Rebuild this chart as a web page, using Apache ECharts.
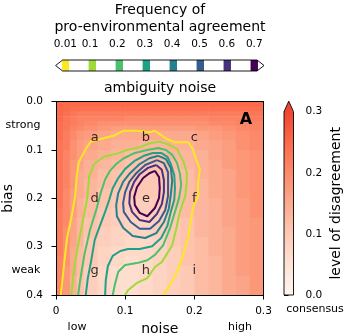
<!DOCTYPE html>
<html><head><meta charset="utf-8">
<script src="https://cdn.jsdelivr.net/npm/echarts@6/dist/echarts.min.js"></script>
<style>html,body{margin:0;padding:0;background:#fff}#c{width:350px;height:335px}</style>
</head><body><div id="c"></div>
<script>
// ---------- data ----------
const xTicks = [0, 0.1, 0.2, 0.3];
const xTickLabels = ['0', '0.1', '0.2', '0.3'];
const yTicks = [0, 0.1, 0.2, 0.3, 0.4];
const yTickLabels = ['0.0', '0.1', '0.2', '0.3', '0.4'];

const levels = [0.01, 0.1, 0.2, 0.3, 0.4, 0.5, 0.6, 0.7];
const levelLabels = ['0.01', '0.1', '0.2', '0.3', '0.4', '0.5', '0.6', '0.7'];
const levelColors = ['#fde725', '#a0da39', '#4ac16d', '#1fa187', '#277f8e', '#365c8d', '#46327e', '#440154'];

const cbarTicks = [0, 0.1, 0.2, 0.3];
const cbarTickLabels = ['0.0', '0.1', '0.2', '0.3'];
const disagreeColors = ['#fff5f0', '#fee3d6', '#fdc9b4', '#fcaa8e', '#fc8a6a', '#fb6a4a', '#f14432'];

// heatmap cell edges (noise, bias)
const colEdges = [0, 0.01, 0.02, 0.03, 0.04, 0.06, 0.08, 0.10, 0.12, 0.14, 0.16, 0.18, 0.20, 0.22, 0.24, 0.26, 0.28, 0.30];
const rowEdges = [0, 0.01, 0.02, 0.03, 0.04, 0.05, 0.06, 0.08, 0.10, 0.12, 0.14, 0.16, 0.18, 0.20, 0.22, 0.24, 0.26, 0.28, 0.30, 0.32, 0.34, 0.36, 0.38, 0.40];
// level of disagreement, one row per bias band
const disagreement = [
 [0.25,0.25,0.25,0.25,0.25,0.25,0.25,0.25,0.25,0.25,0.25,0.25,0.25,0.25,0.25,0.25,0.25],
 [0.25,0.25,0.24,0.24,0.24,0.24,0.24,0.24,0.24,0.24,0.24,0.24,0.24,0.24,0.24,0.24,0.24],
 [0.25,0.24,0.23,0.22,0.22,0.22,0.22,0.22,0.22,0.22,0.22,0.22,0.22,0.22,0.22,0.22,0.23],
 [0.25,0.23,0.22,0.21,0.21,0.21,0.21,0.20,0.20,0.20,0.20,0.20,0.20,0.21,0.21,0.21,0.22],
 [0.24,0.23,0.22,0.21,0.20,0.19,0.19,0.19,0.19,0.19,0.19,0.19,0.19,0.20,0.20,0.21,0.21],
 [0.24,0.23,0.21,0.20,0.19,0.18,0.17,0.17,0.17,0.17,0.17,0.17,0.18,0.18,0.19,0.20,0.21],
 [0.24,0.22,0.20,0.18,0.17,0.16,0.15,0.15,0.15,0.15,0.15,0.15,0.16,0.17,0.18,0.19,0.20],
 [0.23,0.22,0.19,0.17,0.16,0.15,0.14,0.14,0.13,0.13,0.14,0.14,0.15,0.16,0.17,0.19,0.20],
 [0.23,0.21,0.19,0.17,0.15,0.14,0.13,0.12,0.12,0.12,0.13,0.13,0.14,0.16,0.17,0.18,0.19],
 [0.23,0.21,0.18,0.16,0.14,0.13,0.12,0.11,0.11,0.11,0.12,0.13,0.14,0.15,0.17,0.18,0.19],
 [0.23,0.21,0.18,0.15,0.14,0.12,0.11,0.11,0.10,0.11,0.11,0.12,0.14,0.15,0.16,0.18,0.19],
 [0.23,0.21,0.18,0.15,0.13,0.12,0.11,0.10,0.10,0.10,0.11,0.12,0.13,0.15,0.16,0.18,0.19],
 [0.23,0.20,0.17,0.15,0.13,0.11,0.10,0.10,0.10,0.10,0.11,0.12,0.13,0.15,0.16,0.18,0.19],
 [0.23,0.20,0.17,0.14,0.12,0.11,0.10,0.09,0.09,0.10,0.11,0.12,0.13,0.14,0.16,0.17,0.19],
 [0.22,0.20,0.17,0.14,0.12,0.10,0.09,0.09,0.09,0.09,0.10,0.12,0.13,0.14,0.16,0.17,0.19],
 [0.22,0.20,0.16,0.13,0.11,0.10,0.09,0.08,0.08,0.09,0.10,0.11,0.13,0.14,0.16,0.17,0.18],
 [0.22,0.19,0.16,0.13,0.11,0.09,0.08,0.08,0.08,0.09,0.10,0.11,0.13,0.14,0.15,0.17,0.18],
 [0.22,0.19,0.16,0.13,0.10,0.09,0.08,0.07,0.07,0.08,0.10,0.11,0.12,0.14,0.15,0.17,0.18],
 [0.22,0.19,0.15,0.12,0.10,0.08,0.07,0.07,0.07,0.08,0.09,0.11,0.12,0.14,0.15,0.17,0.18],
 [0.21,0.19,0.15,0.12,0.10,0.08,0.07,0.06,0.07,0.08,0.09,0.11,0.12,0.13,0.15,0.17,0.18],
 [0.21,0.18,0.15,0.12,0.09,0.07,0.06,0.06,0.07,0.08,0.09,0.10,0.12,0.13,0.15,0.17,0.18],
 [0.21,0.18,0.14,0.11,0.09,0.07,0.06,0.06,0.07,0.08,0.09,0.10,0.12,0.13,0.15,0.16,0.18],
 [0.21,0.18,0.14,0.11,0.09,0.07,0.06,0.06,0.07,0.08,0.09,0.10,0.12,0.13,0.15,0.16,0.18]
];

// contour paths [noise, bias] for each agreement level
const contour001 = [[0.007,0.400],[0.012,0.332],[0.016,0.282],[0.023,0.234],[0.028,0.193],[0.030,0.153],[0.033,0.125],[0.043,0.098],[0.050,0.083],[0.065,0.077],[0.084,0.070],[0.098,0.060],[0.117,0.060],[0.137,0.063],[0.143,0.060],[0.160,0.077],[0.172,0.084],[0.191,0.084],[0.198,0.098],[0.203,0.122],[0.208,0.139],[0.205,0.174],[0.206,0.193],[0.198,0.220],[0.194,0.255],[0.191,0.282],[0.184,0.317],[0.175,0.352],[0.165,0.379],[0.155,0.400]];
const contour01 = [[0.022,0.400],[0.026,0.348],[0.032,0.296],[0.039,0.245],[0.045,0.201],[0.048,0.154],[0.055,0.129],[0.069,0.114],[0.087,0.108],[0.103,0.100],[0.121,0.094],[0.136,0.086],[0.150,0.083],[0.162,0.088],[0.175,0.098],[0.184,0.123],[0.189,0.146],[0.189,0.166],[0.187,0.195],[0.179,0.228],[0.174,0.262],[0.168,0.297],[0.153,0.332],[0.143,0.342],[0.132,0.365],[0.117,0.375],[0.104,0.390],[0.100,0.400]];
const contour02 = [[0.032,0.400],[0.035,0.369],[0.041,0.317],[0.049,0.266],[0.059,0.220],[0.065,0.187],[0.071,0.161],[0.078,0.143],[0.087,0.129],[0.098,0.117],[0.114,0.106],[0.132,0.100],[0.148,0.096],[0.159,0.100],[0.168,0.110],[0.175,0.127],[0.179,0.148],[0.181,0.172],[0.178,0.199],[0.172,0.228],[0.165,0.261],[0.155,0.297],[0.143,0.317],[0.132,0.328],[0.117,0.334],[0.100,0.338],[0.090,0.352],[0.085,0.379],[0.082,0.400]];
const contour03 = [[0.043,0.400],[0.046,0.365],[0.051,0.328],[0.056,0.286],[0.064,0.255],[0.071,0.228],[0.077,0.203],[0.082,0.179],[0.090,0.158],[0.100,0.139],[0.113,0.123],[0.127,0.112],[0.140,0.106],[0.152,0.106],[0.161,0.114],[0.166,0.129],[0.171,0.152],[0.172,0.179],[0.171,0.203],[0.166,0.228],[0.161,0.257],[0.152,0.282],[0.139,0.299],[0.121,0.305],[0.104,0.305],[0.093,0.309],[0.082,0.319],[0.075,0.340],[0.072,0.369],[0.071,0.400]];
const contour04 = [[0.148,0.112],[0.159,0.119],[0.166,0.137],[0.168,0.164],[0.166,0.193],[0.163,0.222],[0.156,0.249],[0.145,0.272],[0.129,0.282],[0.111,0.278],[0.097,0.261],[0.088,0.237],[0.087,0.214],[0.090,0.189],[0.097,0.166],[0.107,0.148],[0.121,0.129],[0.135,0.117],[0.148,0.112]];
const contour05 = [[0.146,0.121],[0.156,0.127],[0.162,0.146],[0.162,0.170],[0.162,0.195],[0.158,0.224],[0.149,0.247],[0.136,0.263],[0.121,0.263],[0.108,0.249],[0.098,0.228],[0.097,0.210],[0.100,0.187],[0.106,0.166],[0.116,0.148],[0.129,0.131],[0.146,0.121]];
const contour06 = [[0.145,0.131],[0.153,0.141],[0.156,0.162],[0.156,0.187],[0.153,0.212],[0.146,0.232],[0.135,0.249],[0.121,0.245],[0.110,0.228],[0.106,0.210],[0.107,0.187],[0.113,0.166],[0.121,0.150],[0.133,0.137],[0.145,0.131]];
const contour07 = [[0.143,0.143],[0.149,0.156],[0.150,0.179],[0.149,0.199],[0.143,0.220],[0.132,0.237],[0.121,0.230],[0.114,0.214],[0.113,0.197],[0.117,0.177],[0.126,0.158],[0.135,0.148],[0.143,0.143]];
const contours = [contour001, contour01, contour02, contour03, contour04, contour05, contour06, contour07];

// regime markers
const markerLetters = ['a', 'b', 'c', 'd', 'e', 'f', 'g', 'h', 'i'];
const markerNoise = [0.056, 0.130, 0.200, 0.056, 0.130, 0.200, 0.056, 0.130, 0.200];
const markerBias = [0.075, 0.075, 0.075, 0.200, 0.200, 0.200, 0.350, 0.350, 0.350];

// ---------- build ----------
const FONT = 'DejaVu Sans';
const heatData = [];
for (let i = 0; i < rowEdges.length - 1; i++) {
  for (let j = 0; j < colEdges.length - 1; j++) {
    heatData.push([colEdges[j], rowEdges[i], colEdges[j + 1], rowEdges[i + 1], disagreement[i][j]]);
  }
}
const markerData = markerLetters.map((l, k) => [markerNoise[k], markerBias[k], l]);
const bandCenters = levels.map((l, k) => levels[0] + k * (levels[levels.length - 1] - levels[0]) / (levels.length - 1));

function idxOf(arr, v) { return arr.findIndex(a => Math.abs(a - v) < 1e-6); }

const chart = echarts.init(document.getElementById('c'), null, { renderer: 'canvas' });

const series = [];
series.push({
  type: 'custom', xAxisIndex: 0, yAxisIndex: 0, clip: true, z: 1,
  encode: { x: [0, 2], y: [1, 3] },
  data: heatData,
  renderItem: function (params, api) {
    const p0 = api.coord([api.value(0), api.value(1)]);
    const p1 = api.coord([api.value(2), api.value(3)]);
    return {
      type: 'rect',
      shape: { x: Math.min(p0[0], p1[0]), y: Math.min(p0[1], p1[1]), width: Math.abs(p1[0] - p0[0]) + 0.6, height: Math.abs(p1[1] - p0[1]) + 0.6 },
      style: { fill: api.visual('color') }
    };
  }
});
contours.forEach((c, k) => {
  series.push({
    type: 'line', xAxisIndex: 0, yAxisIndex: 0, data: c, showSymbol: false, symbol: 'none',
    lineStyle: { color: levelColors[k], width: 2 }, z: 5, silent: true, animation: false
  });
});
series.push({
  type: 'scatter', xAxisIndex: 0, yAxisIndex: 0, data: markerData, symbolSize: 0, z: 6,
  label: { show: true, position: 'inside', formatter: p => p.data[2], color: '#000', fontSize: 13, fontFamily: FONT }
});
// top colour bar bands
series.push({
  type: 'custom', xAxisIndex: 1, yAxisIndex: 1, clip: true, z: 3,
  data: bandCenters.map((b, k) => [b, k]),
  renderItem: function (params, api) {
    const c = api.value(0);
    const p0 = api.coord([c - 0.0135, 1]);
    const p1 = api.coord([c + 0.0135, 0]);
    return { type: 'rect', shape: { x: p0[0], y: p0[1], width: p1[0] - p0[0], height: p1[1] - p0[1] }, style: { fill: levelColors[api.value(1)] } };
  }
});
// top colour bar outline
series.push({
  type: 'custom', xAxisIndex: 1, yAxisIndex: 1, clip: false, z: 4, data: [[0, 0]],
  renderItem: function (params, api) {
    const cs = params.coordSys; const x = cs.x, y = cs.y, w = cs.width, h = cs.height;
    return {
      type: 'polygon',
      shape: { points: [[x - 7, y + h / 2], [x, y], [x + w, y], [x + w + 7, y + h / 2], [x + w, y + h], [x, y + h]] },
      style: { fill: null, stroke: '#000', lineWidth: 0.9 }
    };
  }
});
// right colour bar
series.push({
  type: 'custom', xAxisIndex: 3, yAxisIndex: 2, clip: false, z: 3, data: [[0, 0]],
  renderItem: function (params, api) {
    const p0 = api.coord([0, cbarTicks[0]]);
    const p1 = api.coord([1, cbarTicks[cbarTicks.length - 1]]);
    const x = p0[0], w = p1[0] - p0[0], yTop = p1[1], yBot = p0[1], mid = x + w / 2;
    const stops = disagreeColors.map((c, i) => ({ offset: i / (disagreeColors.length - 1), color: c }));
    return {
      type: 'group', children: [
        { type: 'rect', shape: { x: x, y: yTop, width: w, height: yBot - yTop }, style: { fill: { type: 'linear', x: 0, y: 1, x2: 0, y2: 0, colorStops: stops } } },
        { type: 'polygon', shape: { points: [[x, yTop + 0.5], [mid, yTop - 10.5], [x + w, yTop + 0.5]] }, style: { fill: disagreeColors[disagreeColors.length - 1] } },
        { type: 'polygon', shape: { points: [[x, yBot], [x, yTop], [mid, yTop - 10.5], [x + w, yTop], [x + w, yBot]] }, style: { fill: null, stroke: '#000', lineWidth: 0.9 } }
      ]
    };
  }
});

const tickLbl = { color: '#000', fontSize: 10.5, fontFamily: FONT };
const gridBase = { containLabel: false, outerBoundsMode: 'none' };
const option = {
  animation: false,
  backgroundColor: '#fff',
  textStyle: { fontFamily: FONT },
  grid: [
    Object.assign({ left: 56, top: 101.7, width: 207.5, height: 193.3 }, gridBase),
    Object.assign({ left: 62.6, top: 60, width: 194.4, height: 11 }, gridBase),
    Object.assign({ left: 284, top: 111.7, width: 9.5, height: 183.3 }, gridBase)
  ],
  xAxis: [
    { gridIndex: 0, type: 'value', min: 0, max: 0.3, interval: 0.1, z: 10,
      axisLine: { show: true, onZero: false, lineStyle: { color: '#000', width: 1 } },
      axisTick: { show: true, length: 4.5, lineStyle: { color: '#000' } },
      splitLine: { show: false },
      axisLabel: Object.assign({ margin: 11, formatter: v => xTickLabels[idxOf(xTicks, v)] }, tickLbl),
      name: 'noise', nameLocation: 'middle', nameGap: 25, nameTextStyle: { fontSize: 14, color: '#000', fontFamily: FONT } },
    { gridIndex: 1, type: 'value', min: 0, max: 0.71, position: 'top',
      axisLine: { show: false }, splitLine: { show: false },
      axisTick: { show: true, customValues: levels, length: 6, lineStyle: { color: '#000' } },
      axisLabel: Object.assign({ customValues: levels, margin: 10, formatter: v => levelLabels[idxOf(levels, v)] }, tickLbl) },
    { gridIndex: 0, type: 'value', min: 0, max: 0.3, position: 'top', z: 10,
      axisLine: { show: true, onZero: false, lineStyle: { color: '#000', width: 1 } },
      axisTick: { show: false }, axisLabel: { show: false }, splitLine: { show: false } },
    { gridIndex: 2, type: 'value', min: 0, max: 1, show: false }
  ],
  yAxis: [
    { gridIndex: 0, type: 'value', min: 0, max: 0.4, interval: 0.1, inverse: true, z: 10,
      axisLine: { show: true, onZero: false, lineStyle: { color: '#000', width: 1 } },
      axisTick: { show: true, length: 4.5, lineStyle: { color: '#000' } },
      splitLine: { show: false },
      axisLabel: Object.assign({ margin: 13, formatter: v => yTickLabels[idxOf(yTicks, v)] }, tickLbl),
      name: 'bias', nameLocation: 'middle', nameGap: 32, nameTextStyle: { fontSize: 14, color: '#000', fontFamily: FONT } },
    { gridIndex: 1, type: 'value', min: 0, max: 1, show: false },
    { gridIndex: 2, type: 'value', min: 0, max: 0.3, interval: 0.1, position: 'right',
      axisLine: { show: false }, splitLine: { show: false },
      axisTick: { show: true, length: 4.5, lineStyle: { color: '#000' } },
      axisLabel: Object.assign({ margin: 12, formatter: v => cbarTickLabels[idxOf(cbarTicks, v)] }, tickLbl),
      name: 'level of disagreement', nameLocation: 'middle', nameRotate: 90, nameGap: 36,
      nameTextStyle: { fontSize: 14, color: '#000', fontFamily: FONT } },
    { gridIndex: 0, type: 'value', min: 0, max: 0.4, inverse: true, position: 'right', z: 10,
      axisLine: { show: true, onZero: false, lineStyle: { color: '#000', width: 1 } },
      axisTick: { show: false }, axisLabel: { show: false }, splitLine: { show: false } }
  ],
  visualMap: [{
    type: 'continuous', show: false, seriesIndex: 0, dimension: 4,
    min: cbarTicks[0], max: cbarTicks[cbarTicks.length - 1],
    inRange: { color: disagreeColors }
  }],
  graphic: [
    { type: 'text', x: 160, y: 10, style: { text: 'Frequency of', fill: '#000', font: '14px "DejaVu Sans"', align: 'center', verticalAlign: 'middle' } },
    { type: 'text', x: 160, y: 27, style: { text: 'pro-environmental agreement', fill: '#000', font: '14px "DejaVu Sans"', align: 'center', verticalAlign: 'middle' } },
    { type: 'text', x: 160, y: 88, style: { text: 'ambiguity noise', fill: '#000', font: '14px "DejaVu Sans"', align: 'center', verticalAlign: 'middle' } },
    { type: 'text', x: 23, y: 125, style: { text: 'strong', fill: '#000', font: '11px "DejaVu Sans"', align: 'center', verticalAlign: 'middle' } },
    { type: 'text', x: 26, y: 270, style: { text: 'weak', fill: '#000', font: '11px "DejaVu Sans"', align: 'center', verticalAlign: 'middle' } },
    { type: 'text', x: 77, y: 327, style: { text: 'low', fill: '#000', font: '11px "DejaVu Sans"', align: 'center', verticalAlign: 'middle' } },
    { type: 'text', x: 240, y: 327, style: { text: 'high', fill: '#000', font: '11px "DejaVu Sans"', align: 'center', verticalAlign: 'middle' } },
    { type: 'text', x: 315, y: 309, style: { text: 'consensus', fill: '#000', font: '11px "DejaVu Sans"', align: 'center', verticalAlign: 'middle' } },
    { type: 'text', x: 246, y: 120, z: 20, style: { text: 'A', fill: '#000', font: 'bold 16px "DejaVu Sans"', align: 'center', verticalAlign: 'middle' } }
  ],
  series: series
};
chart.setOption(option);
</script>
</body></html>
